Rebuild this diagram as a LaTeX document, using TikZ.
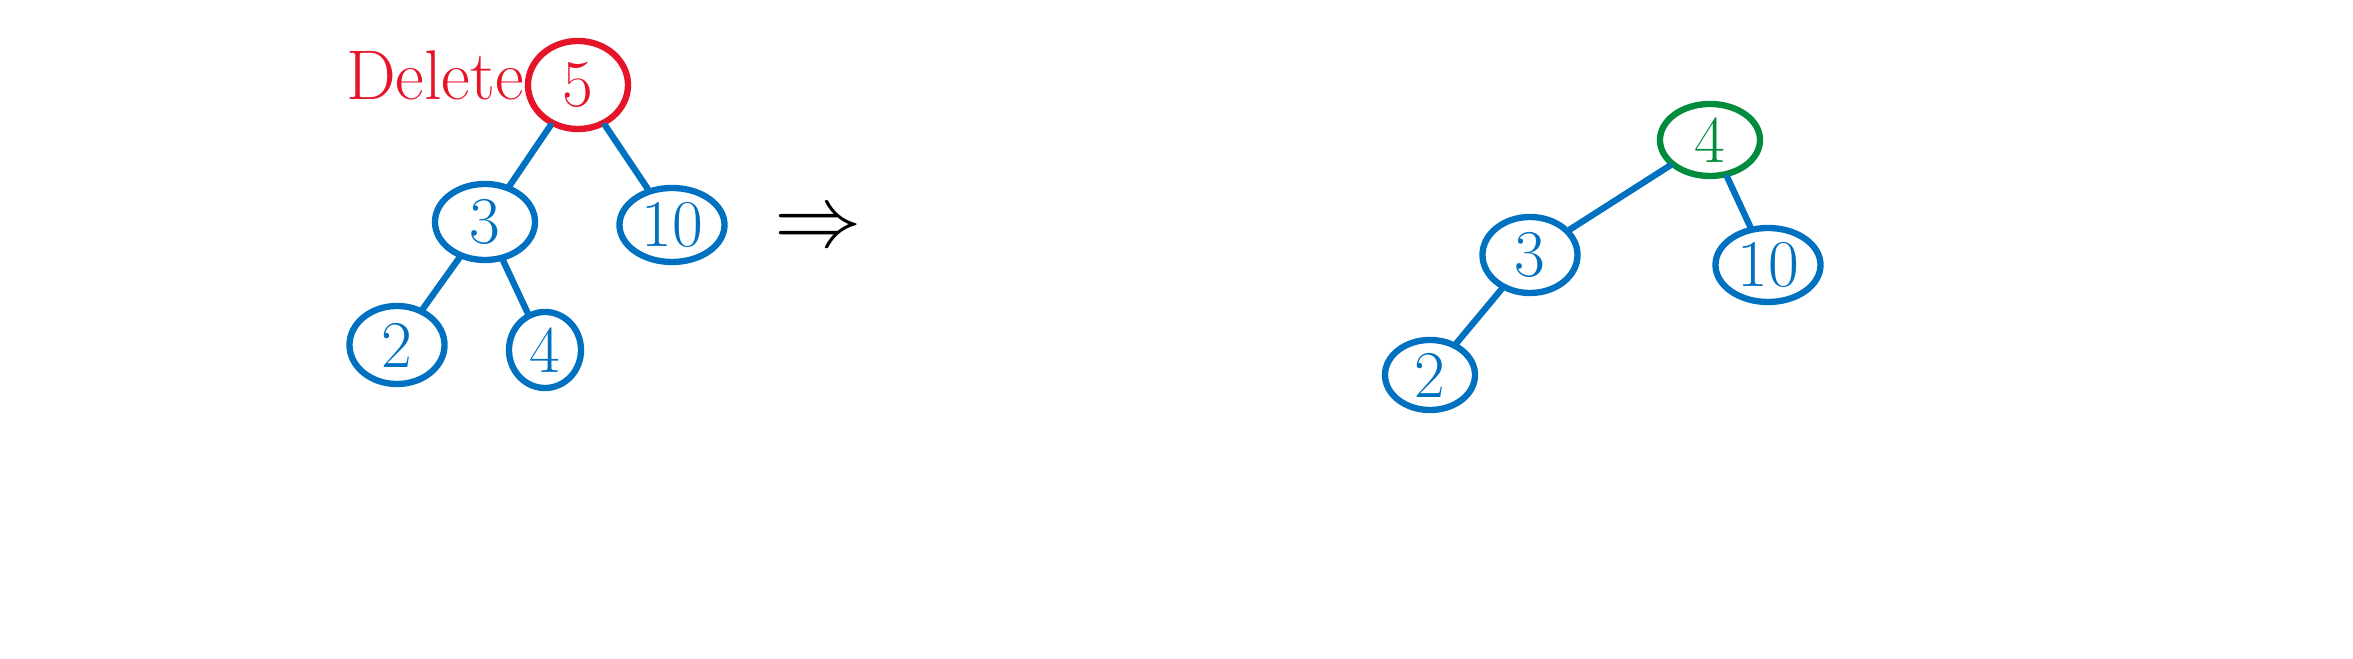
\documentclass[tikz,border=0pt]{standalone}
\usetikzlibrary{shapes.geometric}
\definecolor{tb}{RGB}{0,112,192}
\definecolor{tr}{RGB}{230,20,40}
\definecolor{tg}{RGB}{0,140,60}
\begin{document}
\begin{tikzpicture}[x=0.01cm,y=-0.01cm,
  tn/.style={ellipse,draw=tb,line width=1.8pt,text=tb,inner sep=0pt,font=\fontsize{19}{19}\selectfont},
  te/.style={draw=tb,line width=1.8pt,line cap=round}]
\useasboundingbox (0,0) rectangle (2353,659);
\node[tn,draw=tr,text=tr,minimum width=1.0cm,minimum height=0.88cm] (a5) at (578,85) {5};
\node[tn,minimum width=1.0cm,minimum height=0.76cm] (a3) at (485,222) {3};
\node[tn,minimum width=1.05cm,minimum height=0.74cm] (a10) at (672,225) {10};
\node[tn,minimum width=0.95cm,minimum height=0.78cm] (a2) at (397,345) {2};
\node[tn,minimum width=0.72cm,minimum height=0.76cm] (a4) at (545,350) {4};
\draw[te] (a5) -- (a3); \draw[te] (a5) -- (a10);
\draw[te] (a3) -- (a2); \draw[te] (a3) -- (a4);
\node[text=tr,font=\fontsize{20}{20}\selectfont] (del) at (435,75) {Delete};
\node[font=\fontsize{30}{30}\selectfont] (arr) at (818,230) {$\Rightarrow$};
\node[tn,draw=tg,text=tg,minimum width=1.0cm,minimum height=0.72cm] (b4) at (1710,140) {4};
\node[tn,minimum width=0.95cm,minimum height=0.76cm] (b3) at (1530,255) {3};
\node[tn,minimum width=1.05cm,minimum height=0.74cm] (b10) at (1768,265) {10};
\node[tn,minimum width=0.9cm,minimum height=0.7cm] (b2) at (1430,375) {2};
\draw[te] (b4) -- (b3); \draw[te] (b4) -- (b10); \draw[te] (b3) -- (b2);
\end{tikzpicture}
\end{document}
